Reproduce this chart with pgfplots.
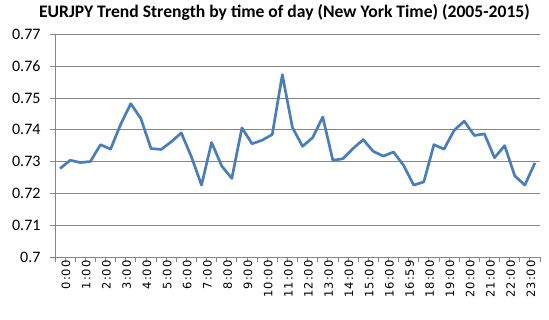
\documentclass[border=0pt]{standalone}
\usepackage{fontspec}
\setmainfont{Carlito}
\newfontfamily\xlabfont[LetterSpace=8]{DejaVu Sans}
\usepackage{pgfplots}
\pgfplotsset{compat=1.18}
\definecolor{gridgray}{RGB}{134,134,134}
\definecolor{lineblue}{RGB}{74,126,187}
\begin{document}
\begin{tikzpicture}
\path[use as bounding box] (-55bp,-63bp) rectangle (494bp,257bp);
\begin{axis}[
  scale only axis,
  width=485bp, height=222.7bp,
  xmin=-0.5, xmax=47.5,
  ymin=0.70, ymax=0.77,
  axis x line*=bottom, axis y line*=left,
  axis line style={gridgray, line width=0.8bp, -},
  ytick={0.70,0.71,0.72,0.73,0.74,0.75,0.76,0.77},
  yticklabels={0.7,0.71,0.72,0.73,0.74,0.75,0.76,0.77},
  ymajorgrids,
  major grid style={gridgray, line width=0.8bp},
  tick align=outside,
  major tick length=5bp,
  tick style={gridgray, line width=0.8bp},
  xtick={-0.5,0.5,...,47.5},
  xticklabels={},
  extra x ticks={0,2,...,46},
  extra x tick labels={0:00,1:00,2:00,3:00,4:00,5:00,6:00,7:00,8:00,9:00,10:00,11:00,12:00,13:00,14:00,15:00,16:00,16:59,18:00,19:00,20:00,21:00,22:00,23:00},
  extra x tick style={major tick length=0pt, xticklabel style={rotate=90, anchor=east, font=\xlabfont\fontsize{11.5bp}{13bp}\selectfont, xshift=0bp, yshift=-6bp}},
  yticklabel style={font=\fontsize{16bp}{18bp}\selectfont, xshift=-6bp},
  /pgf/number format/assume math mode=true,
  title={\bfseries EURJPY Trend Strength by time of day (New York Time) (2005-2015)},
  title style={at={(axis description cs:0.473,1)}, anchor=base, yshift=11.3bp, font=\fontsize{17.6bp}{20bp}\selectfont},
  clip=false,
]
\addplot[lineblue, line width=2.7bp, line join=round] coordinates {
(0,0.7278) (1,0.7304) (2,0.7297) (3,0.7300) (4,0.7353) (5,0.7339) (6,0.7417) (7,0.7482)
(8,0.7435) (9,0.7341) (10,0.7338) (11,0.7362) (12,0.7390) (13,0.7315) (14,0.7226) (15,0.7360)
(16,0.7286) (17,0.7247) (18,0.7406) (19,0.7356) (20,0.7367) (21,0.7385) (22,0.7573) (23,0.7407)
(24,0.7348) (25,0.7375) (26,0.7440) (27,0.7304) (28,0.7309) (29,0.7341) (30,0.7369) (31,0.7332)
(32,0.7317) (33,0.7330) (34,0.7288) (35,0.7226) (36,0.7236) (37,0.7353) (38,0.7339) (39,0.7398)
(40,0.7427) (41,0.7382) (42,0.7387) (43,0.7312) (44,0.7350) (45,0.7255) (46,0.7226) (47,0.7296)
};
\end{axis}
\end{tikzpicture}
\end{document}
